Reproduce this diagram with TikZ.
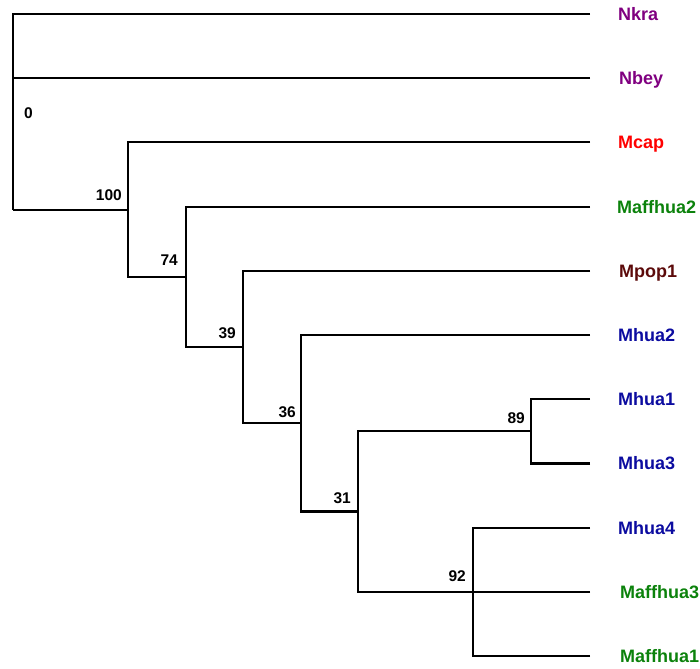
\documentclass[tikz,border=0pt]{standalone}
\usepackage{fontspec}
\setmainfont{Liberation Sans}
\usepackage{xcolor}
\usetikzlibrary{math}
\definecolor{nkracol}{HTML}{800080}
\definecolor{mcapcol}{HTML}{FF0000}
\definecolor{maffcol}{HTML}{0C820C}
\definecolor{mpopcol}{HTML}{5C0A0A}
\definecolor{mhuacol}{HTML}{0C0CA0}

\begin{document}
\begin{tikzpicture}[x=1pt,y=-1pt,
  branch/.style={line width=2.2pt},
  taxon/.style={anchor=base west,inner sep=0pt,font=\fontsize{18}{18}\selectfont\bfseries},
  boot/.style={anchor=base east,inner sep=0pt,font=\fontsize{15.5}{15.5}\selectfont\bfseries}]
\tikzmath{
\xt=590;
\d=64.2;
\yo=14;
\ya=\yo+6*\d; \yb=\yo+7*\d;
\yc=\yo+8*\d; \yd=\yo+10*\d;
\yei=(\ya+\yb)/2;
\ynt=(\yc+\yd)/2;
\ytho=(\yei+\ynt)/2;
\ytsx=(\yo+5*\d+\ytho)/2;
\yths=(\yo+4*\d+\ytsx)/2;
\ysvf=(\yo+3*\d+\yths)/2;
\yhun=(\yo+2*\d+\ysvf)/2;
}
\useasboundingbox (0,0) rectangle (700,668);

%leaf tips
\coordinate (Nkra) at (\xt,\yo);
\coordinate (Nbey) at (\xt,\yo+\d);
\coordinate (Mcap) at (\xt,\yo+2*\d);
\coordinate (Maffhua2) at (\xt,\yo+3*\d);
\coordinate (Mpop1) at (\xt,\yo+4*\d);
\coordinate (Mhua2) at (\xt,\yo+5*\d);
\coordinate (Mhua1) at (\xt,\yo+6*\d);
\coordinate (Mhua3) at (\xt,\yo+7*\d);
\coordinate (Mhua4) at (\xt,\yo+8*\d);
\coordinate (Maffhua3) at (\xt,\yo+9*\d);
\coordinate (Maffhua1) at (\xt,\yo+10*\d);

%inner nodes
\coordinate (root) at (13,\yhun);
\coordinate (n100) at (128,\yhun);
\coordinate (n74) at (186,\ysvf);
\coordinate (n39) at (243,\yths);
\coordinate (n36) at (301,\ytsx);
\coordinate (n31) at (358,\ytho);
\coordinate (n89) at (531,\yei);
\coordinate (n92) at (473,\ynt);

%branches
\draw[branch] (Nkra) -| (root);
\draw[branch] (Nbey) -| (root);
\draw[branch] (n100) -- (root);
\draw[branch] (Mcap) -| (n100);
\draw[branch] (n74) -| (n100);
\draw[branch] (Maffhua2) -| (n74);
\draw[branch] (n39) -| (n74);
\draw[branch] (Mpop1) -| (n39);
\draw[branch] (n36) -| (n39);
\draw[branch] (Mhua2) -| (n36);
\draw[branch] (n31) -| (n36);
\draw[branch] (n89) -| (n31);
\draw[branch] (n92) -| (n31);
\draw[branch] (Mhua1) -| (n89);
\draw[branch] (Mhua3) -| (n89);
\draw[branch] (Mhua4) -| (n92);
\draw[branch] (Maffhua1) -| (n92);
\draw[branch] (Maffhua3) -- (n92);

%taxon names
\node[taxon,text=nkracol] (tNkra) at ([xshift=28pt,yshift=-6.5pt]Nkra) {Nkra};
\node[taxon,text=nkracol] (tNbey) at ([xshift=29pt,yshift=-6.5pt]Nbey) {Nbey};
\node[taxon,text=mcapcol] (tMcap) at ([xshift=28pt,yshift=-6.5pt]Mcap) {Mcap};
\node[taxon,text=maffcol] (tMaffhua2) at ([xshift=27pt,yshift=-6.5pt]Maffhua2) {Maffhua2};
\node[taxon,text=mpopcol] (tMpop1) at ([xshift=29pt,yshift=-6.5pt]Mpop1) {Mpop1};
\node[taxon,text=mhuacol] (tMhua2) at ([xshift=28pt,yshift=-6.5pt]Mhua2) {Mhua2};
\node[taxon,text=mhuacol] (tMhua1) at ([xshift=28pt,yshift=-6.5pt]Mhua1) {Mhua1};
\node[taxon,text=mhuacol] (tMhua3) at ([xshift=28pt,yshift=-6.5pt]Mhua3) {Mhua3};
\node[taxon,text=mhuacol] (tMhua4) at ([xshift=28pt,yshift=-6.5pt]Mhua4) {Mhua4};
\node[taxon,text=maffcol] (tMaffhua3) at ([xshift=30pt,yshift=-6.5pt]Maffhua3) {Maffhua3};
\node[taxon,text=maffcol] (tMaffhua1) at ([xshift=30pt,yshift=-6.5pt]Maffhua1) {Maffhua1};

%bootstrap values
\node[boot,anchor=base west] (b0) at ([xshift=11pt,yshift=91pt]root) {0};
\node[boot] (b100) at ([xshift=-6pt,yshift=9pt]n100) {100};
\node[boot] (b74) at ([xshift=-8pt,yshift=11pt]n74) {74};
\node[boot] (b39) at ([xshift=-7pt,yshift=9pt]n39) {39};
\node[boot] (b36) at ([xshift=-5pt,yshift=6pt]n36) {36};
\node[boot] (b31) at ([xshift=-7pt,yshift=8pt]n31) {31};
\node[boot] (b89) at ([xshift=-6pt,yshift=8pt]n89) {89};
\node[boot] (b92) at ([xshift=-7pt,yshift=10pt]n92) {92};
\end{tikzpicture}
\end{document}
